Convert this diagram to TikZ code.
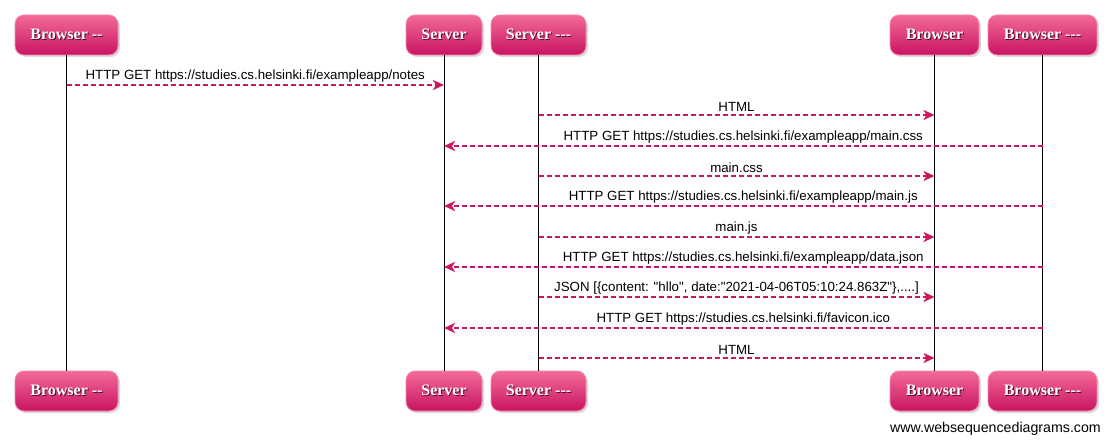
\documentclass[tikz,border=0pt]{standalone}
\usepackage{fontspec}
\newfontfamily\msgfont{Liberation Sans}
\newfontfamily\actorfont{Liberation Serif}
\usetikzlibrary{arrows.meta,shadows}
\definecolor{wsdpink}{HTML}{CC1760}
\definecolor{wsdtop}{HTML}{F26A97}
\definecolor{wsdbottom}{HTML}{C91463}
\newcommand\actorlabel[1]{\makebox[0pt][l]{\hspace{1pt}\raisebox{-1pt}{\textcolor{wsdbottom!40!black}{#1}}}#1}
\begin{document}
\begin{tikzpicture}[x=1pt,y=-1pt,
	actor/.style={rounded corners=9pt, top color=wsdtop, bottom color=wsdbottom, draw=wsdtop!80!white, line width=0.8pt, minimum height=40pt, inner sep=0pt, text=white, font=\actorfont\bfseries\fontsize{16}{18}\selectfont, drop shadow={shadow xshift=2pt, shadow yshift=-2pt, opacity=0.3}},
	lifeline/.style={black, line width=1pt},
	msg/.style={wsdpink, dash pattern=on 5pt off 3pt, line width=2pt, -{Stealth[length=11pt,width=10pt,inset=3pt]}},
	lbl/.style={midway, above, inner sep=2.2pt, text=black, font=\msgfont\fontsize{13.3}{15}\selectfont}]
	\useasboundingbox (0,0) rectangle (1110,444);
	
	% participants, top and bottom
	\node [actor, minimum width=103pt] (b1top) at (66.5,35) {\actorlabel{Browser --}};
	\node [actor, minimum width=76pt] (s1top) at (444,35) {\actorlabel{Server}};
	\node [actor, minimum width=95pt] (s2top) at (538.5,35) {\actorlabel{Server ---}};
	\node [actor, minimum width=89pt] (b2top) at (934.5,35) {\actorlabel{Browser}};
	\node [actor, minimum width=109pt] (b3top) at (1042.5,35) {\actorlabel{Browser ---}};
	\node [actor, minimum width=103pt] (b1bot) at (66.5,391) {\actorlabel{Browser --}};
	\node [actor, minimum width=76pt] (s1bot) at (444,391) {\actorlabel{Server}};
	\node [actor, minimum width=95pt] (s2bot) at (538.5,391) {\actorlabel{Server ---}};
	\node [actor, minimum width=89pt] (b2bot) at (934.5,391) {\actorlabel{Browser}};
	\node [actor, minimum width=109pt] (b3bot) at (1042.5,391) {\actorlabel{Browser ---}};
	
	% lifelines
	\draw [lifeline] (b1top) -- (b1bot);
	\draw [lifeline] (s1top) -- (s1bot);
	\draw [lifeline] (s2top) -- (s2bot);
	\draw [lifeline] (b2top) -- (b2bot);
	\draw [lifeline] (b3top) -- (b3bot);
	
	% message rows
	\coordinate (r1) at (0,85);
	\coordinate (r2) at (0,115);
	\coordinate (r3) at (0,146);
	\coordinate (r4) at (0,176);
	\coordinate (r5) at (0,206);
	\coordinate (r6) at (0,237);
	\coordinate (r7) at (0,267);
	\coordinate (r8) at (0,297);
	\coordinate (r9) at (0,328);
	\coordinate (r10) at (0,358);
	
	\draw [msg] (b1top |- r1) -- (s1top |- r1) node [lbl] {HTTP GET https://studies.cs.helsinki.fi/exampleapp/notes};
	\draw [msg] (s2top |- r2) -- (b2top |- r2) node [lbl] {HTML};
	\draw [msg] (b3top |- r3) -- (s1top |- r3) node [lbl] {HTTP GET https://studies.cs.helsinki.fi/exampleapp/main.css};
	\draw [msg] (s2top |- r4) -- (b2top |- r4) node [lbl] {main.css};
	\draw [msg] (b3top |- r5) -- (s1top |- r5) node [lbl] {HTTP GET https://studies.cs.helsinki.fi/exampleapp/main.js};
	\draw [msg] (s2top |- r6) -- (b2top |- r6) node [lbl] {main.js};
	\draw [msg] (b3top |- r7) -- (s1top |- r7) node [lbl] {HTTP GET https://studies.cs.helsinki.fi/exampleapp/data.json};
	\draw [msg] (s2top |- r8) -- (b2top |- r8) node [lbl] {JSON [\{content: "hllo", date:"2021-04-06T05:10:24.863Z"\},....]};
	\draw [msg] (b3top |- r9) -- (s1top |- r9) node [lbl] {HTTP GET https://studies.cs.helsinki.fi/favicon.ico};
	\draw [msg] (s2top |- r10) -- (b2top |- r10) node [lbl] {HTML};
	
	\node [anchor=east, inner sep=0pt, font=\msgfont\fontsize{14.2}{16}\selectfont] (wsd) at (1101,429) {www.websequencediagrams.com};
\end{tikzpicture}
\end{document}
